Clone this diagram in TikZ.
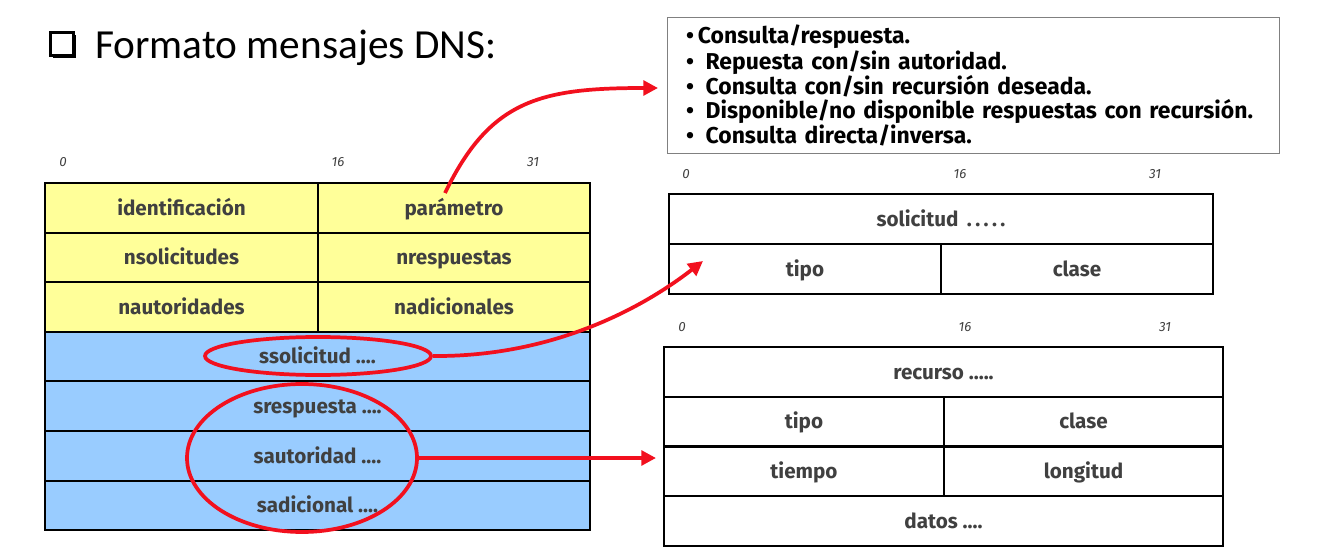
\documentclass[tikz,border=0pt]{standalone}
\usepackage{fontspec}
\setmainfont{Fira Sans}
\newfontfamily\titulo{Carlito}
\usetikzlibrary{arrows.meta,shapes.geometric,shadows}

\definecolor{amarillo}{HTML}{FFFF99}
\definecolor{celeste}{HTML}{99CCFF}
\definecolor{grisletra}{HTML}{404040}
\definecolor{rojo}{HTML}{F2101E}

\tikzset{
    celda/.style={draw=black, line width=1.5pt, inner sep=0pt, anchor=north west,
        minimum height=37.2pt, text=grisletra, text height=12pt, text depth=1pt,
        font=\fontsize{15.5}{18}\selectfont\bfseries},
    bit/.style={inner sep=0pt, text=grisletra, font=\fontsize{10}{11}\selectfont\itshape},
    marca/.style={ellipse, draw=rojo, line width=2.8pt, inner sep=0pt},
    flecha/.style={draw=rojo, line width=2.8pt, -{Triangle[length=11pt,width=11pt]}}
}

\begin{document}
\begin{tikzpicture}[x=0.75pt, y=-0.75pt]
    \useasboundingbox[fill=white] (0,0) rectangle (1318,560);

    % Titulo
    \node[draw, line width=1.8pt, fill=white, minimum size=17pt, inner sep=0pt,
        drop shadow={shadow xshift=2pt, shadow yshift=-2pt, opacity=1, fill=black}] (casilla) at (62,44) {};
    \node[anchor=base west, inner sep=0pt, font=\titulo\fontsize{31}{36}\selectfont] (titulo) at (95,59) {Formato mensajes DNS:};

    % Cuadro de banderas del parametro
    \node[draw=gray, line width=0.8pt, anchor=north west, minimum width=459pt, minimum height=102pt,
        text width=431pt, inner xsep=14pt, align=left, font=\fontsize{17.2}{17.7}\selectfont\bfseries] (banderas) at (667,17)
        {\textbullet\,Consulta/respuesta.\\
         \textbullet\enspace Repuesta con/sin autoridad.\\
         \textbullet\enspace Consulta con/sin recursión deseada.\\
         \textbullet\enspace Disponible/no disponible respuestas con recursión.\\
         \textbullet\enspace Consulta directa/inversa.};

    % Mensaje DNS: cabecera (amarilla)
    \node[bit] (m0) at (63,162) {0};
    \node[bit] (m16) at (338,162) {16};
    \node[bit] (m31) at (533,162) {31};
    \node[celda, fill=amarillo, minimum width=204.75pt] (ident) at (44,182) {identificación};
    \node[celda, fill=amarillo, minimum width=204pt] (param) at (317,182) {parámetro};
    \node[celda, fill=amarillo, minimum width=204.75pt] (nsolic) at (44,231.6) {nsolicitudes};
    \node[celda, fill=amarillo, minimum width=204pt] (nresp) at (317,231.6) {nrespuestas};
    \node[celda, fill=amarillo, minimum width=204.75pt] (nauto) at (44,281.2) {nautoridades};
    \node[celda, fill=amarillo, minimum width=204pt] (nadic) at (317,281.2) {nadicionales};

    % Mensaje DNS: secciones (celestes)
    \node[celda, fill=celeste, minimum width=408.75pt] (ssolic) at (44,330.8) {ssolicitud ....};
    \node[celda, fill=celeste, minimum width=408.75pt] (sresp) at (44,380.4) {srespuesta ....};
    \node[celda, fill=celeste, minimum width=408.75pt] (sauto) at (44,430) {sautoridad ....};
    \node[celda, fill=celeste, minimum width=408.75pt] (sadic) at (44,479.6) {sadicional ....};

    % Formato de la solicitud
    \node[bit] (s0) at (686,174) {0};
    \node[bit] (s16) at (960,174) {16};
    \node[bit] (s31) at (1155,174) {31};
    \node[celda, minimum width=408pt, minimum height=37.5pt] (solic) at (668,193) {solicitud \,.\,.\,.\,.\,.};
    \node[celda, minimum width=204pt, minimum height=37.5pt] (stipo) at (668,243) {tipo};
    \node[celda, minimum width=204pt, minimum height=37.5pt] (sclase) at (940,243) {clase};

    % Formato del registro de recurso
    \node[bit] (r0) at (682,327) {0};
    \node[bit] (r16) at (965,327) {16};
    \node[bit] (r31) at (1165,327) {31};
    \node[celda, minimum width=419.25pt, minimum height=37.3pt] (recurso) at (663,346) {recurso .....};
    \node[celda, minimum width=210pt, minimum height=37.3pt] (rtipo) at (663,395.75) {tipo};
    \node[celda, minimum width=209.25pt, minimum height=37.3pt] (rclase) at (943,395.75) {clase};
    \node[celda, minimum width=210pt, minimum height=37.3pt] (rtiempo) at (663,445.5) {tiempo};
    \node[celda, minimum width=209.25pt, minimum height=37.3pt] (rlong) at (943,445.5) {longitud};
    \node[celda, minimum width=419.25pt, minimum height=37.3pt] (datos) at (663,495.25) {datos ....};

    % Marcas rojas
    \node[marca, minimum width=169.5pt, minimum height=28.5pt] (marca1) at (318,356) {};
    \node[marca, minimum width=172.5pt, minimum height=111pt] (marca2) at (302,458) {};

    % Puntos de salida y llegada de las flechas
    \coordinate (salida1) at (445,193);
    \coordinate (llegada1) at (658,88);
    \coordinate (llegada2) at (703,261);
    \coordinate (llegada3) at (656,458);

    % Flechas
    \draw[flecha] (salida1) .. controls (490,100) and (540,88) .. (llegada1);
    \draw[flecha] (marca1.east) .. controls (550,357) and (640,310) .. (llegada2);
    \draw[flecha] (marca2.east) -- (llegada3);
\end{tikzpicture}
\end{document}
